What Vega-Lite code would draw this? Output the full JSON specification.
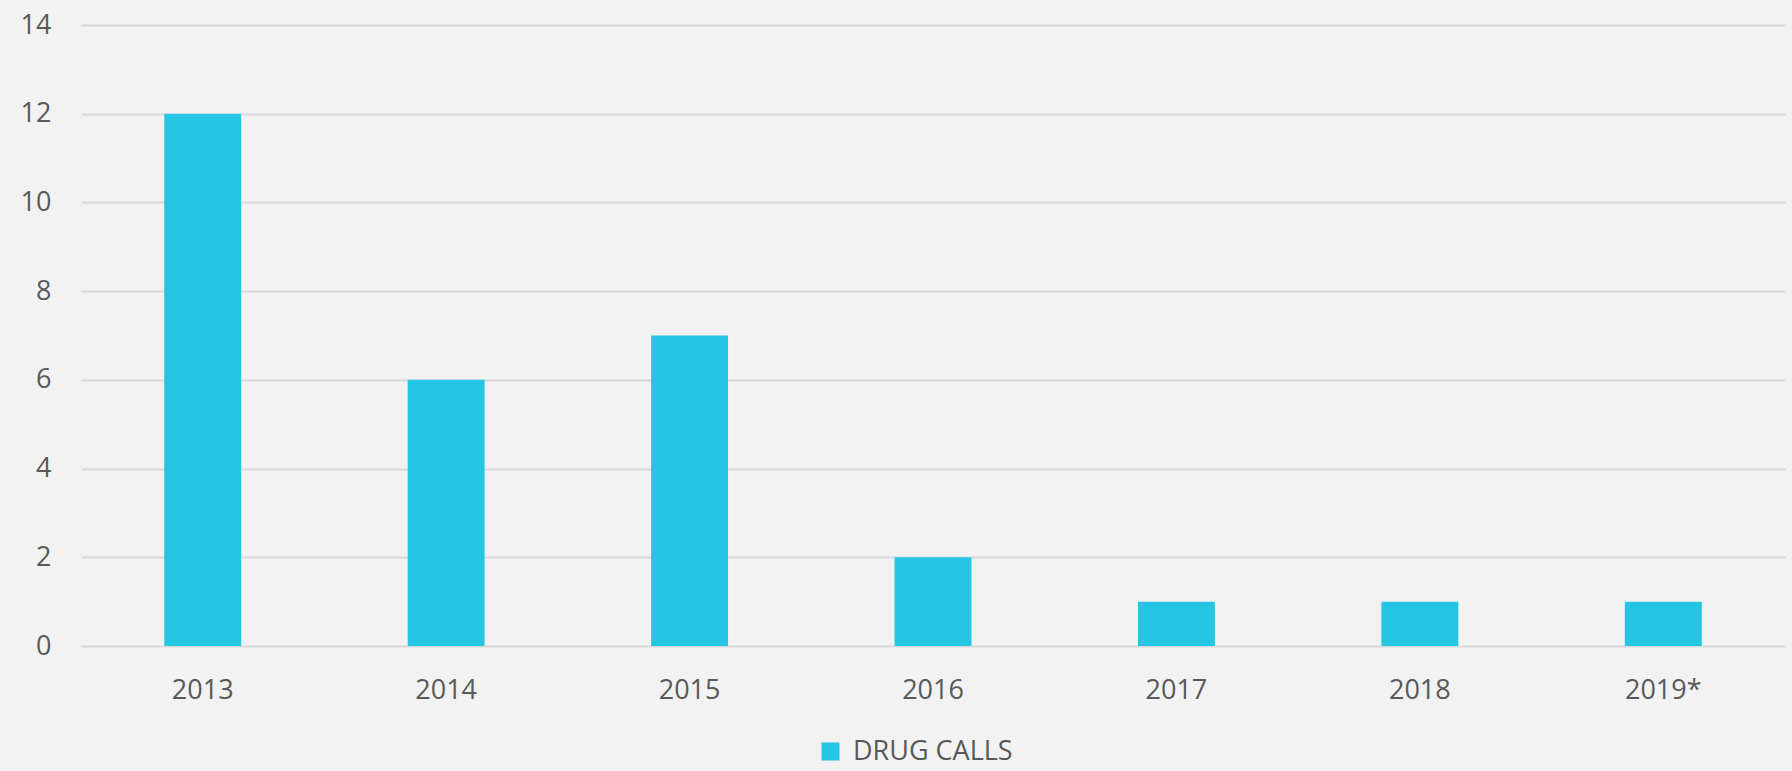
{
  "$schema": "https://vega.github.io/schema/vega-lite/v6.json",
  "autosize": {"type": "none"},
  "width": 1704,
  "height": 621,
  "padding": {"left": 81, "top": 25, "right": 7, "bottom": 125},
  "background": "#f2f2f2",
  "config": {
    "view": {"stroke": null},
    "font": "Open Sans",
    "axis": {"labelFont": "Open Sans", "labelFontWeight": 400, "labelColor": "#595959", "labelFontSize": 27}
  },
  "data": {
    "values": [
      {"year": "2013", "series": "DRUG CALLS", "calls": 12},
      {"year": "2014", "series": "DRUG CALLS", "calls": 6},
      {"year": "2015", "series": "DRUG CALLS", "calls": 7},
      {"year": "2016", "series": "DRUG CALLS", "calls": 2},
      {"year": "2017", "series": "DRUG CALLS", "calls": 1},
      {"year": "2018", "series": "DRUG CALLS", "calls": 1},
      {"year": "2019*", "series": "DRUG CALLS", "calls": 1}
    ]
  },
  "mark": {"type": "bar", "color": "#25c6e3"},
  "encoding": {
    "x": {
      "field": "year", "type": "ordinal", "sort": null,
      "scale": {"paddingInner": 0.684, "paddingOuter": 0.342},
      "axis": {"title": null, "domain": false, "ticks": false, "labelAngle": 0, "labelPadding": 44, "labelBaseline": "middle"}
    },
    "y": {
      "field": "calls", "type": "quantitative",
      "scale": {"domain": [0, 14]},
      "axis": {"title": null, "values": [0, 2, 4, 6, 8, 10, 12, 14], "domain": false, "ticks": false, "labelPadding": 30, "gridColor": "#d9d9d9", "gridWidth": 2}
    },
    "color": {
      "field": "series", "type": "nominal",
      "scale": {"range": ["#25c6e3"]},
      "legend": {
        "title": null, "orient": "none", "legendX": 736, "legendY": 713,
        "symbolType": "square", "symbolSize": 324, "symbolStrokeWidth": 0, "symbolOpacity": 1,
        "labelFont": "Open Sans", "labelFontWeight": 400, "labelFontSize": 27, "labelColor": "#595959", "labelOffset": 9
      }
    }
  }
}
